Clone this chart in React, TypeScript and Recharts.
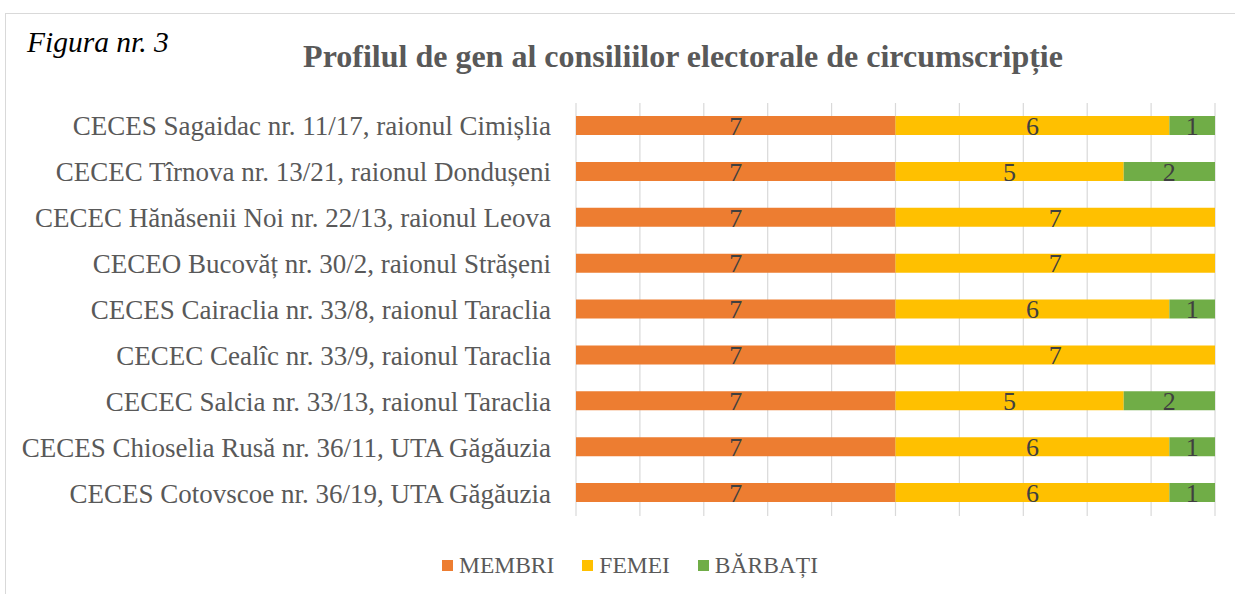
import { Bar, BarChart, CartesianGrid, LabelList, XAxis, YAxis } from "recharts";

const circumscriptii = [
  "CECES Sagaidac nr. 11/17, raionul Cimișlia",
  "CECEC Tîrnova nr. 13/21, raionul Dondușeni",
  "CECEC Hănăsenii Noi nr. 22/13, raionul Leova",
  "CECEO Bucovăț nr. 30/2, raionul Strășeni",
  "CECES Cairaclia nr. 33/8, raionul Taraclia",
  "CECEC Cealîc nr. 33/9, raionul Taraclia",
  "CECEC Salcia nr. 33/13, raionul Taraclia",
  "CECES Chioselia Rusă nr. 36/11, UTA Găgăuzia",
  "CECES Cotovscoe nr. 36/19, UTA Găgăuzia",
];

const membri = [7, 7, 7, 7, 7, 7, 7, 7, 7];
const femei = [6, 5, 7, 7, 6, 7, 5, 6, 6];
const barbati = [1, 2, 0, 0, 1, 0, 2, 1, 1];

// axa de 0..14 (suma pe fiecare rând), cu linii la fiecare 10%
const xTicks = [0, 1.4, 2.8, 4.2, 5.6, 7, 8.4, 9.8, 11.2, 12.6, 14];

const series = [
  { key: "membri", name: "MEMBRI", color: "#ED7D31" },
  { key: "femei", name: "FEMEI", color: "#FFC000" },
  { key: "barbati", name: "BĂRBAȚI", color: "#70AD47" },
];

const data = circumscriptii.map((name, i) => ({
  name,
  membri: membri[i],
  femei: femei[i],
  barbati: barbati[i],
}));

const FONT = '"Liberation Serif", "Times New Roman", serif';

function CategoryTick({ x, y, payload }: any) {
  return (
    <text
      x={x}
      y={y}
      dy="0.35em"
      textAnchor="end"
      fill="#595959"
      fontSize={27}
      fontFamily={FONT}
    >
      {payload.value}
    </text>
  );
}

const hideZero = (v: any) => (v ? v : "");

export default function App() {
  return (
    <div
      style={{
        position: "absolute",
        left: 0,
        top: 0,
        width: 1235,
        height: 594,
        background: "#fff",
        overflow: "hidden",
        fontFamily: FONT,
      }}
    >
      <div
        style={{
          position: "absolute",
          left: 5,
          top: 13,
          width: 1300,
          height: 700,
          borderLeft: "1px solid #d9d9d9",
          borderTop: "1px solid #d9d9d9",
        }}
      />
      <div
        style={{
          position: "absolute",
          left: 27,
          top: 26,
          fontSize: 29.5,
          fontStyle: "italic",
          color: "#000",
          lineHeight: 1.15,
        }}
      >
        Figura nr. 3
      </div>
      <div
        style={{
          position: "absolute",
          left: 0,
          width: 1366,
          top: 38,
          textAlign: "center",
          fontSize: 32,
          fontWeight: "bold",
          color: "#595959",
          lineHeight: 1.15,
        }}
      >
        Profilul de gen al consiliilor electorale de circumscripție
      </div>
      <div style={{ position: "absolute", left: 0, top: 0 }}>
        <BarChart
          width={1235}
          height={594}
          data={data}
          layout="vertical"
          margin={{ top: 103, right: 20, bottom: 78, left: 0 }}
          barSize={19}
        >
          <CartesianGrid
            horizontal={false}
            verticalValues={xTicks}
            stroke="#d9d9d9"
            strokeWidth={1.2}
          />
          <XAxis
            type="number"
            domain={[0, 14]}
            ticks={xTicks}
            tick={() => <g />}
            tickLine={false}
            axisLine={false}
            height={0}
          />
          <YAxis
            type="category"
            dataKey="name"
            width={576}
            tickLine={false}
            axisLine={false}
            tickSize={0}
            tickMargin={25}
            tick={<CategoryTick />}
            interval={0}
          />
          {series.map((s) => (
            <Bar
              key={s.key}
              dataKey={s.key}
              name={s.name}
              stackId="a"
              fill={s.color}
              isAnimationActive={false}
            >
              <LabelList
                dataKey={s.key}
                position="center"
                formatter={hideZero}
                fill="#404040"
                fontSize={26}
                fontFamily={FONT}
              />
            </Bar>
          ))}
        </BarChart>
      </div>
      <div
        style={{
          position: "absolute",
          left: 0,
          width: 1260,
          top: 552,
          display: "flex",
          justifyContent: "center",
          gap: 28,
          fontSize: 23.5,
          color: "#595959",
        }}
      >
        {series.map((s) => (
          <div key={s.key} style={{ display: "flex", alignItems: "center" }}>
            <span
              style={{
                display: "inline-block",
                width: 11,
                height: 11,
                background: s.color,
                marginRight: 6,
              }}
            />
            {s.name}
          </div>
        ))}
      </div>
    </div>
  );
}
